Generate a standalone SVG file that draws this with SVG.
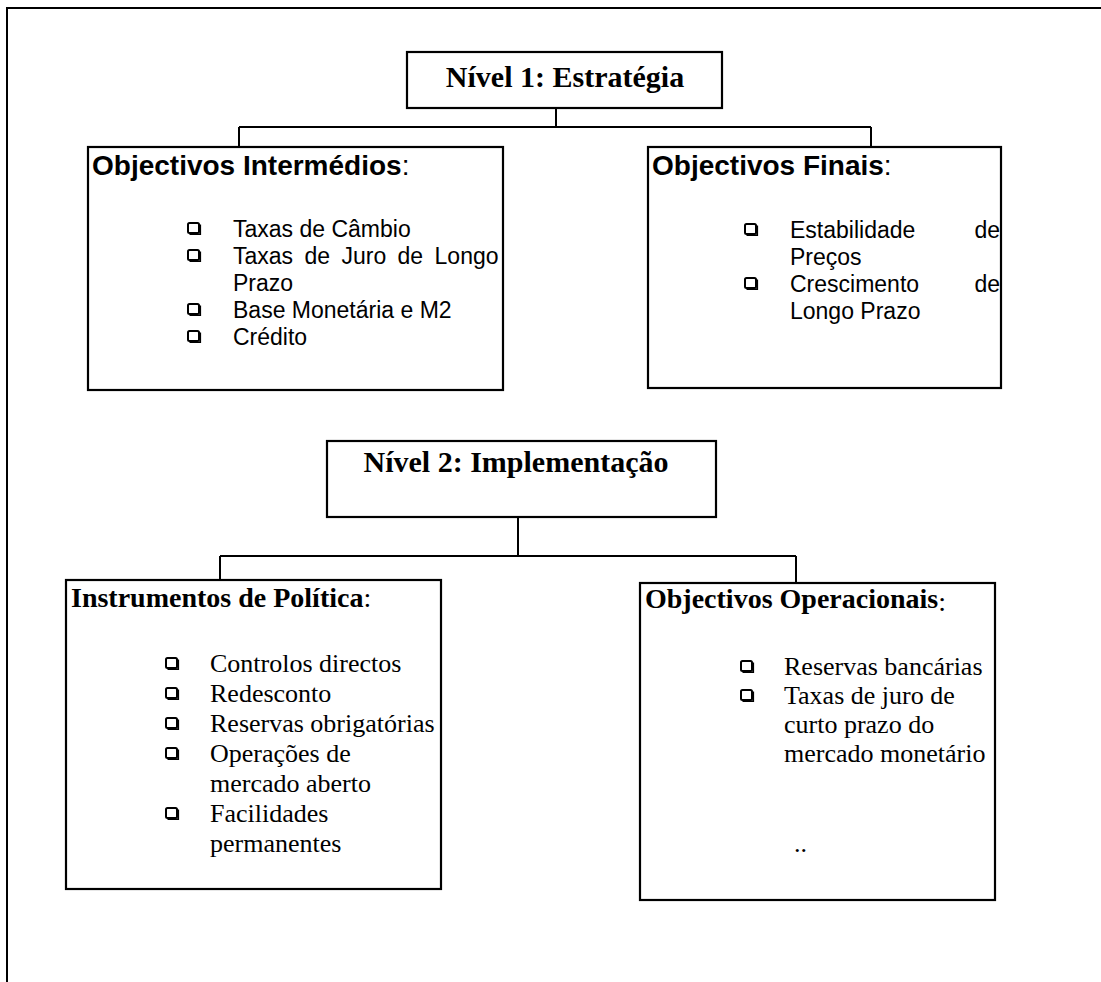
<svg xmlns="http://www.w3.org/2000/svg" xmlns:xlink="http://www.w3.org/1999/xlink" width="1101" height="982" viewBox="0 0 1101 982">
<style>
.box{fill:#fff;stroke:#000;stroke-width:2.2}
.conn{fill:none;stroke:#000;stroke-width:2}
.frame{fill:none;stroke:#000;stroke-width:2}
.lvl{font-family:"Liberation Serif",serif;font-weight:bold;font-size:30px;fill:#000}
.ha{font-family:"Liberation Sans",sans-serif;font-weight:bold;font-size:28px;fill:#000}
.ia{font-family:"Liberation Sans",sans-serif;font-size:23px;fill:#000}
.ht{font-family:"Liberation Serif",serif;font-weight:bold;font-size:28px;fill:#000}
.it{font-family:"Liberation Serif",serif;font-size:26px;fill:#000}
.n{font-weight:normal}
</style>
<defs>
<g id="chk">
<rect x="0" y="0" width="11" height="10" rx="1.5" fill="#fff" stroke="#000" stroke-width="2"/>
<path d="M1.5,11.3 H12.3 V1.5" fill="none" stroke="#000" stroke-width="1.6"/>
</g>
</defs>
<rect width="1101" height="982" fill="#fff"/>
<path class="frame" d="M7,982 V8 H1101"/>

<g id="connectors">
<path class="conn" d="M556,108 V127 M239,127 H871 M239,127 V147 M871,127 V147"/>
<path class="conn" d="M518,517 V556 M220,556 H796 M220,556 V580 M796,556 V583"/>
</g>

<g id="nivel1">
<rect class="box" x="407" y="52" width="315" height="56"/>
<text class="lvl" x="565" y="87" text-anchor="middle">Nível 1: Estratégia</text>
</g>

<g id="objectivos-intermedios">
<rect class="box" x="88" y="147" width="415" height="243"/>
<text class="ha" x="92" y="175">Objectivos Intermédios<tspan class="n">:</tspan></text>
<use xlink:href="#chk" x="188" y="223"/>
<text class="ia" x="233" y="237">Taxas de Câmbio</text>
<use xlink:href="#chk" x="188" y="250"/>
<text class="ia" x="233" y="264" word-spacing="5">Taxas de Juro de Longo</text>
<text class="ia" x="233" y="291">Prazo</text>
<use xlink:href="#chk" x="188" y="304"/>
<text class="ia" x="233" y="318">Base Monetária e M2</text>
<use xlink:href="#chk" x="188" y="331"/>
<text class="ia" x="233" y="345">Crédito</text>
</g>

<g id="objectivos-finais">
<rect class="box" x="648" y="147" width="353" height="241"/>
<text class="ha" x="652" y="175">Objectivos Finais<tspan class="n">:</tspan></text>
<use xlink:href="#chk" x="745" y="224"/>
<text class="ia" x="790" y="238">Estabilidade</text>
<text class="ia" x="1000" y="238" text-anchor="end">de</text>
<text class="ia" x="790" y="265">Preços</text>
<use xlink:href="#chk" x="745" y="278"/>
<text class="ia" x="790" y="292">Crescimento</text>
<text class="ia" x="1000" y="292" text-anchor="end">de</text>
<text class="ia" x="790" y="319">Longo Prazo</text>
</g>

<g id="nivel2">
<rect class="box" x="327" y="441" width="389" height="76"/>
<text class="lvl" x="516" y="472" text-anchor="middle">Nível 2: Implementação</text>
</g>

<g id="instrumentos">
<rect class="box" x="66" y="580" width="375" height="309"/>
<text class="ht" x="71" y="607">Instrumentos de Política<tspan class="n">:</tspan></text>
<use xlink:href="#chk" x="166" y="658"/>
<text class="it" x="210" y="672">Controlos directos</text>
<use xlink:href="#chk" x="166" y="688"/>
<text class="it" x="210" y="702">Redesconto</text>
<use xlink:href="#chk" x="166" y="718"/>
<text class="it" x="210" y="732">Reservas obrigatórias</text>
<use xlink:href="#chk" x="166" y="748"/>
<text class="it" x="210" y="762">Operações de</text>
<text class="it" x="210" y="792">mercado aberto</text>
<use xlink:href="#chk" x="166" y="808"/>
<text class="it" x="210" y="822">Facilidades</text>
<text class="it" x="210" y="852">permanentes</text>
</g>

<g id="operacionais">
<rect class="box" x="640" y="583" width="355" height="317"/>
<text class="ht" x="645" y="608">Objectivos Operacionais<tspan class="n" dy="3">:</tspan></text>
<use xlink:href="#chk" x="741" y="661"/>
<text class="it" x="784" y="675">Reservas bancárias</text>
<use xlink:href="#chk" x="741" y="690"/>
<text class="it" x="784" y="704">Taxas de juro de</text>
<text class="it" x="784" y="733">curto prazo do</text>
<text class="it" x="784" y="762">mercado monetário</text>
<text class="it" x="794" y="852" font-size="18">..</text>
</g>
</svg>
